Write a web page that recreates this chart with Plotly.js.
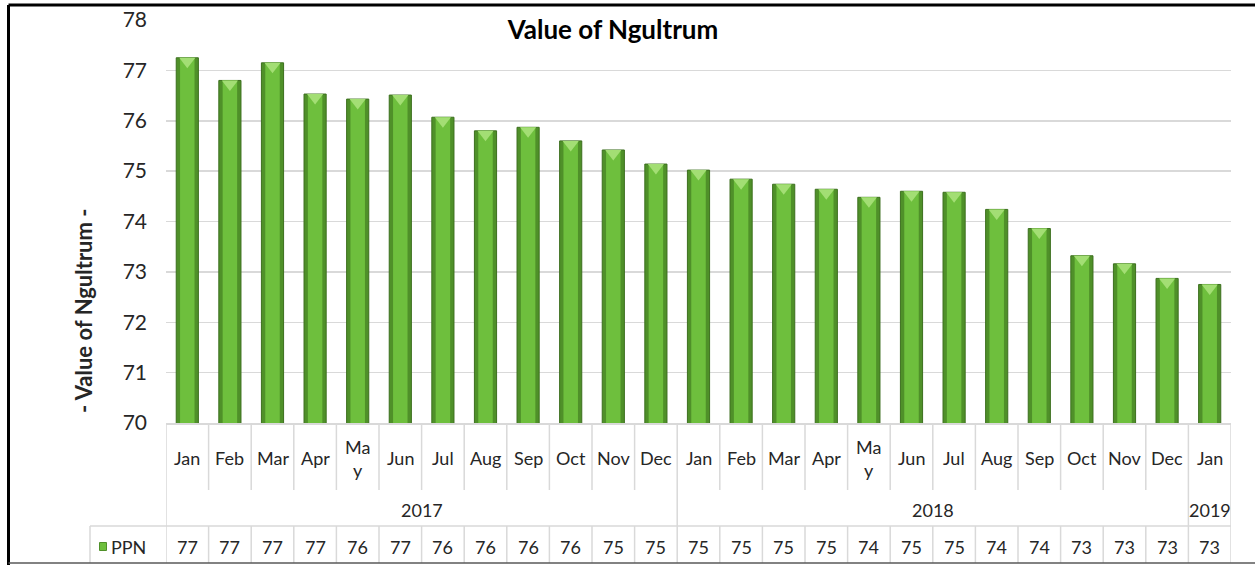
<!DOCTYPE html>
<html>
<head>
<meta charset="utf-8">
<script src="https://cdn.plot.ly/plotly-3.0.1.min.js"></script>
<style>
html,body{margin:0;padding:0;background:#fff;}
#chart{width:1255px;height:565px;}
</style>
</head>
<body>
<div id="chart"></div>
<script>
// ---- data ----
const months = ['Jan','Feb','Mar','Apr','May','Jun','Jul','Aug','Sep','Oct','Nov','Dec',
                'Jan','Feb','Mar','Apr','May','Jun','Jul','Aug','Sep','Oct','Nov','Dec','Jan'];
const monthLabels = months.map(m => m === 'May' ? 'Ma<br>y' : m);
const years = ['2017','2018','2019'];
const yearCounts = [12, 12, 1];
const seriesName = 'PPN';
const ppnValues = [77.25, 76.80, 77.15, 76.53, 76.43, 76.51, 76.07, 75.80, 75.87, 75.60, 75.42, 75.14,
                   75.02, 74.84, 74.74, 74.64, 74.48, 74.60, 74.58, 74.24, 73.86, 73.32, 73.16, 72.87, 72.75];
const yTicks = [70, 71, 72, 73, 74, 75, 76, 77, 78];

// ---- geometry helpers (pixel -> paper) ----
const W = 1255, H = 565;
const L = 166, R = 24, T = 20, B = 142;
const PW = W - L - R, PH = H - T - B;
const px = p => (p - L) / PW;
const py = p => (H - B - p) / PH;

const idx = months.map((_, i) => i);
const textColor = '#262626';
const gridCol = '#d9d9d9';
const font = 'Lato, "Open Sans", sans-serif';

const traces = [
  { type: 'bar', x: idx, y: ppnValues, width: 0.52, name: seriesName,
    marker: { color: '#4f9029', line: { color: '#3c6f1e', width: 1 } },
    hoverinfo: 'skip', showlegend: false },
  { type: 'bar', x: idx, y: ppnValues, width: 0.34,
    marker: { color: '#6ebf3d', line: { width: 0 } },
    hoverinfo: 'skip', showlegend: false },
  { type: 'scatter', mode: 'markers', x: idx, y: ppnValues, yaxis: 'y2',
    marker: { symbol: 'triangle-down', size: 14, color: '#a3de74', line: { width: 0 } },
    hoverinfo: 'skip', showlegend: false }
];

const shapes = [];
const annotations = [];
const line = (x0, y0, x1, y1, xref, color, width) =>
  shapes.push({ type: 'line', xref: xref, yref: 'paper', x0, y0, x1, y1,
                line: { color: color, width: width }, layer: 'above' });

// month separators
const yMonthBottom = py(490), yYearBottom = py(526), yTableBottom = py(563);
const groupEdges = [];
let acc = 0; groupEdges.push(-0.5);
yearCounts.forEach(c => { acc += c; groupEdges.push(acc - 0.5); });
for (let i = 0; i <= months.length; i++) {
  const xe = i - 0.5;
  const isGroup = groupEdges.includes(xe);
  const isOuter = (i === 0 || i === months.length);
  line(xe, 0, xe, isOuter ? yTableBottom : (isGroup ? yYearBottom : yMonthBottom), 'x', gridCol, 1.5);
  if (!isOuter) line(xe, yYearBottom, xe, yTableBottom, 'x', gridCol, 1.5);
}
// horizontal line above the data row
line(px(90), yYearBottom, 1, yYearBottom, 'paper', gridCol, 1.5);
line(px(90), yYearBottom, px(90), yTableBottom, 'paper', gridCol, 1.5);
// frame
line(px(8.5), py(5), px(W), py(5), 'paper', '#000000', 3);
line(px(8.5), py(5), px(8.5), py(H), 'paper', '#000000', 3);
line(px(8.5), py(563), px(W), py(563), 'paper', '#595959', 1.5);
// legend key
shapes.push({ type: 'rect', xref: 'paper', yref: 'paper', x0: px(99.5), x1: px(106.5), y0: py(550.5), y1: py(542.5),
              fillcolor: '#6ebf3d', line: { color: '#4f9029', width: 1 }, layer: 'above' });

// month labels
monthLabels.forEach((m, i) => annotations.push({
  xref: 'x', yref: 'paper', x: i, y: py(458), text: m, showarrow: false,
  xanchor: 'center', yanchor: 'middle', font: { family: font, size: 18, color: textColor }
}));
// year labels
acc = 0;
years.forEach((yr, k) => {
  const c = (acc + acc + yearCounts[k] - 1) / 2;
  acc += yearCounts[k];
  annotations.push({ xref: 'x', yref: 'paper', x: c, y: py(510), text: yr, showarrow: false,
    xanchor: 'center', yanchor: 'middle', font: { family: font, size: 18, color: textColor } });
});
// data row
ppnValues.forEach((v, i) => annotations.push({
  xref: 'x', yref: 'paper', x: i, y: py(547), text: String(Math.round(v)), showarrow: false,
  xanchor: 'center', yanchor: 'middle', font: { family: font, size: 18, color: textColor }
}));
annotations.push({ xref: 'paper', yref: 'paper', x: px(109), y: py(547), text: seriesName, showarrow: false,
  xanchor: 'left', yanchor: 'middle', font: { family: font, size: 18, color: textColor } });
// y-axis title
annotations.push({ xref: 'paper', yref: 'paper', x: px(83), y: py(311), text: '- Value of Ngultrum -',
  showarrow: false, textangle: -90, xanchor: 'center', yanchor: 'middle',
  font: { family: font, size: 22, color: textColor, weight: 'bold' } });

const d = 3.5 / (PH / 8);
const layout = {
  width: W, height: H,
  margin: { l: L, r: R, t: T, b: B, pad: 0 },
  paper_bgcolor: '#ffffff', plot_bgcolor: '#ffffff',
  barmode: 'overlay',
  showlegend: false,
  title: { text: '<b>Value of Ngultrum</b>', xref: 'paper', yref: 'container', x: px(613), y: 1 - 30 / H,
           xanchor: 'center', yanchor: 'middle', font: { family: font, size: 26, color: '#000000' } },
  xaxis: { range: [-0.5, months.length - 0.5], showticklabels: false, showgrid: false, zeroline: false,
           showline: true, linecolor: gridCol, linewidth: 1.5, ticks: '', fixedrange: true },
  yaxis: { range: [70, 78], tickvals: yTicks, ticktext: yTicks.map(String), showgrid: true, gridcolor: gridCol,
           gridwidth: 1.5, zeroline: false, showline: false, ticks: '', ticklabelstandoff: 18,
           tickfont: { family: font, size: 21, color: textColor } },
  yaxis2: { overlaying: 'y', range: [70 + d, 78 + d], visible: false, showgrid: false },
  shapes: shapes,
  annotations: annotations
};

Plotly.newPlot('chart', traces, layout, { staticPlot: true, displayModeBar: false });
</script>
</body>
</html>
